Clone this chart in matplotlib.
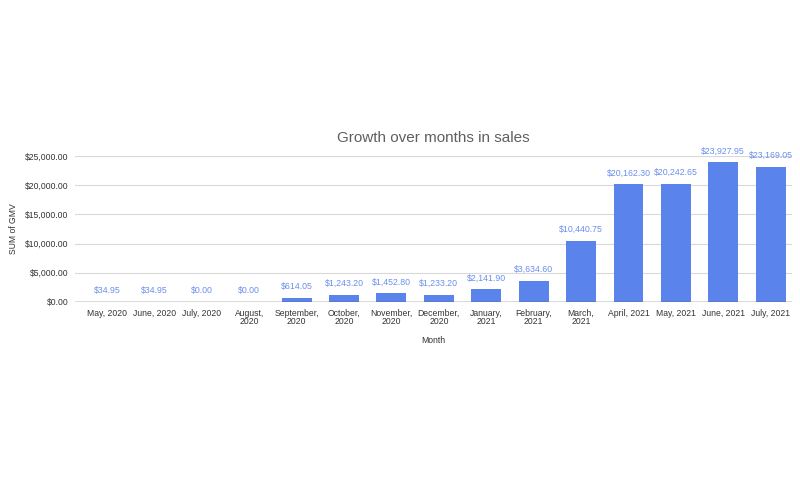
import matplotlib
matplotlib.use('Agg')
import matplotlib.pyplot as plt

# ── Data ──────────────────────────────────────────────────────────────────────
months = ["May, 2020", "June, 2020", "July, 2020", "August,\n2020", "September,\n2020",
          "October,\n2020", "November,\n2020", "December,\n2020", "January,\n2021",
          "February,\n2021", "March,\n2021", "April, 2021", "May, 2021", "June, 2021",
          "July, 2021"]
gmv = [34.95, 34.95, 0.00, 0.00, 614.05, 1243.20, 1452.80, 1233.20, 2141.90,
       3634.60, 10440.75, 20162.30, 20242.65, 23927.95, 23169.05]
yticks = [0, 5000, 10000, 15000, 20000, 25000]

plt.rcParams['font.family'] = ['Liberation Sans', 'DejaVu Sans']

fig = plt.figure(figsize=(8, 4.8), dpi=100)
ax = fig.add_axes([0.094, 0.371, 0.896, 0.304])

x = list(range(len(months)))
ax.bar(x, gmv, width=0.63, color='#5a84ec', zorder=3)

for xi, v in zip(x, gmv):
    ax.text(xi, v + 1950, f"${v:,.2f}", ha='center', va='center',
            fontsize=6.3, color='#6a8fec', clip_on=False)

ax.set_xlim(-0.67, 14.45)
ax.set_ylim(0, 25000)
ax.set_yticks(yticks)
ax.set_yticklabels([f"${t:,.2f}" for t in yticks])
ax.set_xticks(x)
ax.set_xticklabels(months, linespacing=0.85)
ax.tick_params(axis='both', length=0, labelsize=6.2, colors='#333333')
ax.tick_params(axis='x', pad=5)
ax.tick_params(axis='y', pad=5)

ax.grid(axis='y', color='#d9d9d9', linewidth=0.8, zorder=0)
ax.axhline(0, color='#555555', linewidth=1.0, zorder=4)
for s in ax.spines.values():
    s.set_visible(False)

ax.set_title("Growth over months in sales", fontsize=11, color='#5f5f5f', pad=10)
ax.set_xlabel("Month", fontsize=6.2, color='#333333')
ax.set_ylabel("SUM of GMV", fontsize=6.2, color='#333333')
ax.xaxis.set_label_coords(0.5, -0.235)
ax.yaxis.set_label_coords(-0.08, 0.5)

fig.savefig('out.png', dpi=100, facecolor='white')
